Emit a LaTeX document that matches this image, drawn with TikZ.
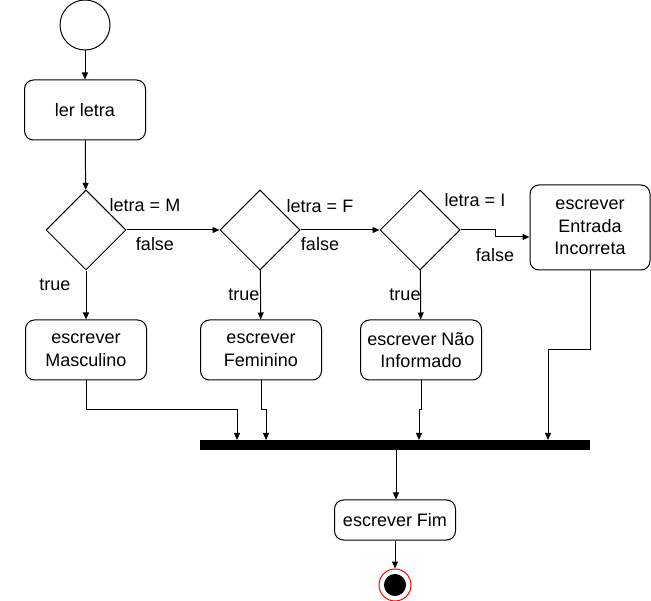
\documentclass[tikz,border=0pt]{standalone}
\usepackage{fontspec}
\setmainfont{Liberation Sans}
\usetikzlibrary{shapes.geometric,arrows.meta}
\begin{document}
\begin{tikzpicture}
    [x=1pt,y=-1pt,line width=1pt,
     every node/.style={font=\fontsize{18}{22.5}\selectfont},
     pre/.style={-{Triangle[length=7pt,width=6pt]}},
     act/.style={shape=rectangle,rounded corners=9pt,draw=black,fill=white,minimum width=121pt,minimum height=60pt,align=center,inner sep=1pt},
     dec/.style={shape=diamond,draw=black,minimum size=80pt,inner sep=0pt},
     lbl/.style={inner sep=0pt}]
    \useasboundingbox (0,0) rectangle (651,601);
    \node [shape=circle,draw=black,minimum size=50pt] (start) at (85,25) {};
    \node [act] (read) at (85,110) {ler letra};
    \node [dec] (d1) at (86,230) {};
    \node [dec] (d2) at (260,230) {};
    \node [dec] (d3) at (420,230) {};
    \node [act,minimum width=120pt,minimum height=85pt] (wrong) at (590,227.5) {escrever\\Entrada\\Incorreta};
    \node [act] (masc) at (86,350) {escrever\\Masculino};
    \node [act] (fem) at (261,350) {escrever\\Feminino};
    \node [act] (nao) at (421,350) {escrever Não\\Informado};
    \node [shape=rectangle,fill=black,minimum width=390pt,minimum height=10pt,inner sep=0pt] (bar) at (395,445) {};
    \node [act,minimum height=40pt] (fim) at (395,520) {escrever Fim};
    \node [shape=circle,draw=red,fill=white,minimum size=32pt,inner sep=0pt] (endring) at (395,585) {};
    \node [shape=circle,draw=black,fill=black,minimum size=21pt,inner sep=0pt] (enddot) at (395,585) {};
    % guards
    \node [lbl] (m1) at (145,205) {letra = M};
    \node [lbl] (f1) at (155,244) {false};
    \node [lbl] (t1) at (55,285) {true};
    \node [lbl] (m2) at (320,206) {letra = F};
    \node [lbl] (f2) at (320,244) {false};
    \node [lbl] (t2) at (244,295) {true};
    \node [lbl] (m3) at (475,200) {letra = I};
    \node [lbl] (f3) at (495,255) {false};
    \node [lbl] (t3) at (405,295) {true};
    % flow
    \draw [pre] (start) -- (read);
    \draw [pre] (read) -- (d1);
    \draw [pre] (d1.east) -- (d2.west);
    \draw [pre] (d2.east) -- (d3.west);
    \draw [pre] (d3.east) -- (495,230) -- (495,237) -- (wrong.west |- 0,237);
    \draw [pre] (d1) -- (masc);
    \draw [pre] (d2) -- (fem);
    \draw [pre] (d3) -- (nao);
    \draw [pre] (masc.south) -- (86,410) -- (237,410) -- (237,440);
    \draw [pre] (fem.south) -- (261,410) -- (266,410) -- (266,440);
    \draw [pre] (nao.south) -- (421,410) -- (419,410) -- (419,440);
    \draw [pre] (wrong.south) -- (590,350) -- (548,350) -- (548,440);
    \draw [pre] (396,450) -- (fim.north -| 396,0);
    \draw [pre] (fim) -- (endring);
\end{tikzpicture}
\end{document}
